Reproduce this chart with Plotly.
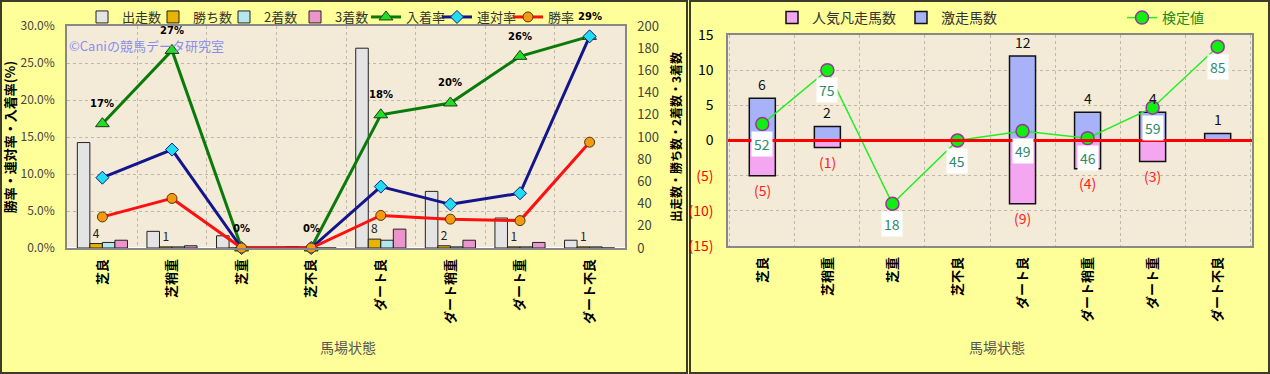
import plotly.graph_objects as go

# ---------------- data ----------------
categories = ["芝良", "芝稍重", "芝重", "芝不良", "ダート良", "ダート稍重", "ダート重", "ダート不良"]

runs = [95, 15, 11, 1, 180, 51, 27, 7]          # 出走数
wins = [4, 1, 0, 0, 8, 2, 1, 1]                 # 勝ち数
seconds = [5, 1, 0, 0, 7, 1, 1, 1]              # 2着数
thirds = [7, 2, 0, 0, 17, 7, 5, 0]              # 3着数
place_rate = [16.8, 26.7, 0.0, 0.0, 18.0, 19.6, 25.9, 28.6]     # 入着率
quinella_rate = [9.5, 13.3, 0.0, 0.0, 8.3, 5.9, 7.4, 28.6]      # 連対率
win_rate = [4.2, 6.7, 0.0, 0.0, 4.4, 3.9, 3.7, 14.3]            # 勝率
place_labels = ["17%", "27%", "0%", "0%", "18%", "20%", "26%", "29%"]
win_labels = ["4", "1", "", "", "8", "2", "1", "1"]

upset = [6, 2, 0, 0, 12, 4, 4, 1]               # 激走馬数
flop = [5, 1, 0, 0, 9, 4, 3, 0]                 # 人気凡走馬数
test_value = [52, 75, 18, 45, 49, 46, 59, 85]   # 検定値

left_ticks = [0, 5, 10, 15, 20, 25, 30]
left_tick_labels = ["0.0%", "5.0%", "10.0%", "15.0%", "20.0%", "25.0%", "30.0%"]
right_ticks = [-15, -10, -5, 0, 5, 10, 15]
right_tick_labels = ["(15)", "(10)", "(5)", "0", "5", "10", "15"]

# ---------------- style ----------------
W, H = 1270, 374
FONT = "Noto Sans CJK JP"
YELLOW = "#FFFF99"
PARCH = "#F3EBD8"
GRID = "#BFB8A8"


def px(x):
    return x / W


def py(y):
    return 1 - y / H


fig = go.Figure()

# ---- left panel: bars (counts axis) ----
bar_specs = [
    ("出走数", runs, "#E4E4E4", None),
    ("勝ち数", wins, "#E8B400", win_labels),
    ("2着数", seconds, "#B4E6EE", None),
    ("3着数", thirds, "#EC94CC", None),
]
for name, vals, col, txt in bar_specs:
    fig.add_trace(go.Bar(
        x=categories, y=vals, name=name, xaxis="x", yaxis="y",
        marker=dict(color=col, line=dict(color="#222222", width=1)),
        text=txt, textposition="outside" if txt else None,
        textfont=dict(size=12, color="#222222", family=FONT),
        cliponaxis=False, legend="legend",
    ))

# ---- left panel: lines (percent axis) ----
fig.add_trace(go.Scatter(
    x=categories, y=place_rate, name="入着率", xaxis="x", yaxis="y2",
    mode="lines+markers",
    line=dict(color="#0A7A0A", width=3),
    marker=dict(symbol="triangle-up", size=12, color="#22DD22", line=dict(color="#1A3A1A", width=1)),
    cliponaxis=False, legend="legend",
))
fig.add_trace(go.Scatter(
    x=categories, y=quinella_rate, name="連対率", xaxis="x", yaxis="y2",
    mode="lines+markers",
    line=dict(color="#14148C", width=3),
    marker=dict(symbol="diamond", size=10, color="#22DDEE", line=dict(color="#14148C", width=1)),
    cliponaxis=False, legend="legend",
))
fig.add_trace(go.Scatter(
    x=categories, y=win_rate, name="勝率", xaxis="x", yaxis="y2",
    mode="lines+markers",
    line=dict(color="#FF1010", width=3),
    marker=dict(symbol="circle", size=10, color="#F49A10", line=dict(color="#553300", width=1)),
    cliponaxis=False, legend="legend",
))

# ---- right panel: stacked bars ----
fig.add_trace(go.Bar(
    x=categories, y=[-v for v in flop], name="人気凡走馬数", xaxis="x2", yaxis="y3",
    width=0.4, offset=-0.2,
    marker=dict(color="#F4A6F0", line=dict(color="#111111", width=1.5)),
    legend="legend2",
))
fig.add_trace(go.Bar(
    x=categories, y=upset, name="激走馬数", xaxis="x2", yaxis="y3",
    width=0.4, offset=-0.2,
    marker=dict(color="#A8B2F8", line=dict(color="#111111", width=1.5)),
    legend="legend2",
))
# 検定値 line on hidden axis
fig.add_trace(go.Scatter(
    x=categories, y=test_value, name="検定値", xaxis="x2", yaxis="y4",
    mode="lines+markers",
    line=dict(color="#22EE22", width=1.5),
    marker=dict(symbol="circle", size=13, color="#11EE11", line=dict(color="#993399", width=1.5)),
    cliponaxis=False, legend="legend3",
))

annotations = []
# 入着率 labels
for c, v, t in zip(categories, place_rate, place_labels):
    annotations.append(dict(
        x=c, y=v, xref="x", yref="y2", text=t, showarrow=False, yshift=20,
        xanchor="center", yanchor="middle",
        font=dict(size=10, color="#000000", family="DejaVu Sans", weight="bold"),
    ))
# right-panel bar labels
for c, v in zip(categories, upset):
    if v:
        annotations.append(dict(
            x=c, y=v, xref="x2", yref="y3", text=str(v), showarrow=False, yshift=14,
            xanchor="center", yanchor="middle",
            font=dict(size=14, color="#111111", family=FONT),
        ))
for c, v in zip(categories, flop):
    if v:
        annotations.append(dict(
            x=c, y=-v, xref="x2", yref="y3", text=f"({v})", showarrow=False, yshift=-14,
            xanchor="center", yanchor="middle",
            font=dict(size=14, color="#FF2020", family=FONT),
        ))
# 検定値 labels
for c, v in zip(categories, test_value):
    annotations.append(dict(
        x=c, y=v, xref="x2", yref="y4", text=str(v), showarrow=False,
        yshift=-20, bgcolor="white", borderpad=2, xanchor="center", yanchor="middle",
        font=dict(size=14, color="#2E8B6A", family=FONT),
    ))
annotations.append(dict(
    x=px(67), y=py(45), xref="paper", yref="paper", xanchor="left", yanchor="middle",
    text="©Caniの競馬データ研究室", showarrow=False,
    font=dict(size=13, color="#8C8CF0", family=FONT),
))
annotations.append(dict(
    x=px(348), y=py(347), xref="paper", yref="paper", xanchor="center", yanchor="middle",
    text="馬場状態", showarrow=False,
    font=dict(size=14, color="#555555", family=FONT),
))
annotations.append(dict(
    x=px(997), y=py(347), xref="paper", yref="paper", xanchor="center", yanchor="middle",
    text="馬場状態", showarrow=False,
    font=dict(size=14, color="#555555", family=FONT),
))

shapes = [
    dict(type="rect", xref="paper", yref="paper", x0=px(1), x1=px(687), y0=py(373), y1=py(1),
         line=dict(color="#3C3C28", width=2), layer="below"),
    dict(type="rect", xref="paper", yref="paper", x0=px(690), x1=px(1269), y0=py(373), y1=py(1),
         line=dict(color="#3C3C28", width=2), layer="below"),
    dict(type="line", xref="x2 domain", yref="y3", x0=0, x1=1, y0=0, y1=0,
         line=dict(color="#FF0000", width=3), layer="above"),
]

axis_common = dict(showline=True, linecolor="#888888", linewidth=1.5, ticks="")
tick_x_font = dict(size=13, color="#000000", weight="bold")

fig.update_layout(
    width=W, height=H, margin=dict(l=0, r=0, t=0, b=0, autoexpand=False),
    paper_bgcolor=YELLOW, plot_bgcolor=PARCH,
    font=dict(family=FONT, size=13, color="#333333"),
    barmode="group", bargap=0.28, bargroupgap=0.0,
    showlegend=True,
    xaxis=dict(domain=[px(67), px(625)], anchor="y", type="category",
               tickson="boundaries", showgrid=True, gridcolor=GRID, griddash="dot",
               tickangle=-90, mirror=True, tickfont=tick_x_font,
               ticklabelstandoff=4, **axis_common),
    yaxis=dict(domain=[py(248), py(26)], anchor="x", side="right", range=[0, 200],
               dtick=20, showgrid=False, tickfont=dict(size=13, color="#444444"),
               ticklabelstandoff=8,
               title=dict(text="出走数・勝ち数・2着数・3着数", standoff=15,
                          font=dict(size=12, color="#000000", weight="bold")),
               **axis_common),
    yaxis2=dict(overlaying="y", side="left", anchor="x", range=[0, 30],
                tickvals=left_ticks, ticktext=left_tick_labels,
                showgrid=True, gridcolor=GRID, griddash="dot", zeroline=False,
                tickfont=dict(size=12, color="#444444"), ticklabelstandoff=8,
                title=dict(text="勝率・連対率・入着率(%)", standoff=4,
                           font=dict(size=13, color="#000000", weight="bold")),
                **axis_common),
    xaxis2=dict(domain=[px(728), px(1252)], anchor="y3", type="category",
                tickson="boundaries", showgrid=True, gridcolor=GRID, griddash="dot",
                tickangle=-90, mirror=True, tickfont=tick_x_font,
                ticklabelstandoff=4, **axis_common),
    yaxis3=dict(domain=[py(246), py(35)], anchor="x2", range=[-15, 15],
                tickvals=right_ticks,
                ticktext=[f"<span style='color:#FF0000'>{t}</span>" if v < 0 else t
                          for v, t in zip(right_ticks, right_tick_labels)],
                showgrid=True, gridcolor=GRID, griddash="dot", zeroline=False, mirror=True,
                tickfont=dict(size=14, color="#000000"), ticklabelstandoff=10,
                **axis_common),
    yaxis4=dict(overlaying="y3", anchor="x2", range=[0, 90], visible=False),
    legend=dict(orientation="h", x=px(82), y=py(17), xanchor="left", yanchor="middle",
                bgcolor="rgba(0,0,0,0)", font=dict(size=13, color="#333333"),
                itemwidth=30, entrywidth=26, tracegroupgap=0),
    legend2=dict(orientation="h", x=px(772), y=py(18), xanchor="left", yanchor="middle",
                 bgcolor="rgba(0,0,0,0)", font=dict(size=14, color="#333333"),
                 traceorder="normal"),
    legend3=dict(orientation="h", x=px(1122), y=py(18), xanchor="left", yanchor="middle",
                 bgcolor="rgba(0,0,0,0)", font=dict(size=14, color="#228822")),
    annotations=annotations,
    shapes=shapes,
)

fig.write_html("out.html")
